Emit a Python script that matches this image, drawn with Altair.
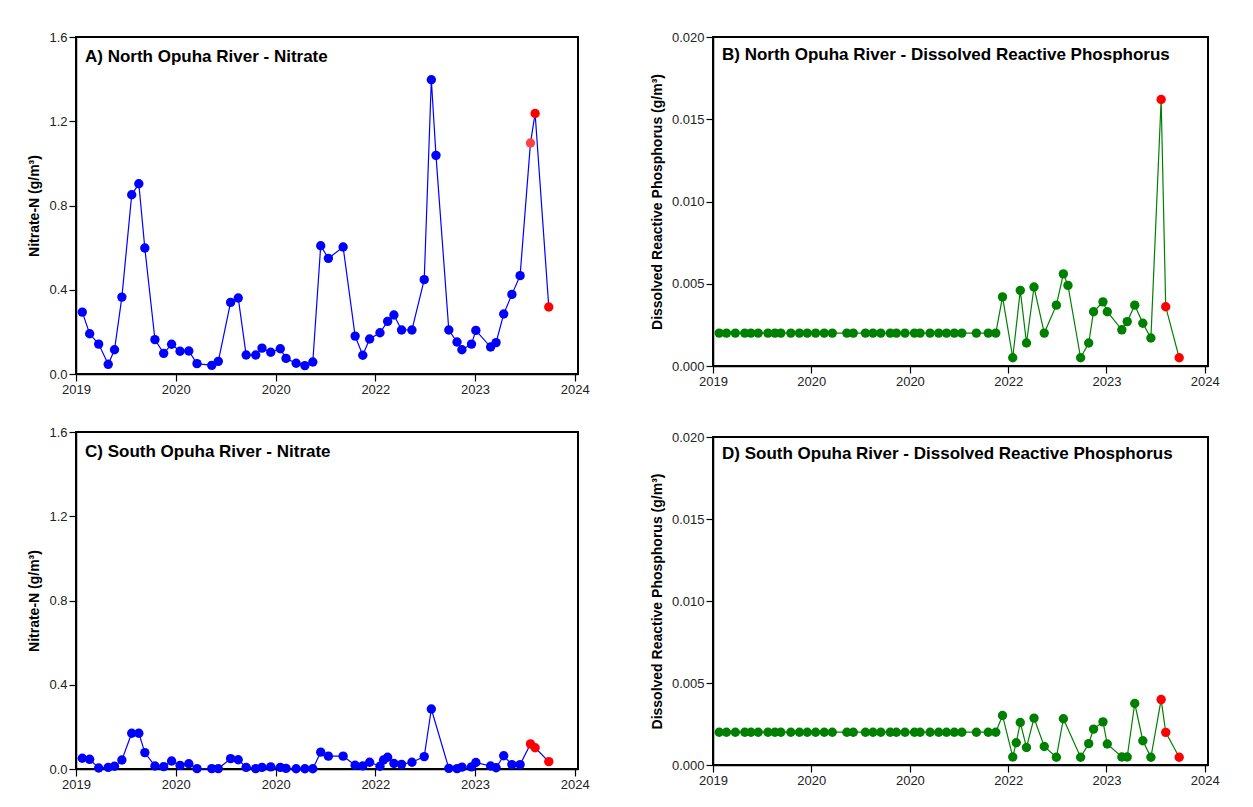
import altair as alt
import pandas as pd

# ---------------- data ----------------
north_dates = [
    "2019-01-24", "2019-02-20", "2019-03-25", "2019-04-29", "2019-05-22", "2019-06-18",
    "2019-07-24", "2019-08-19", "2019-09-10", "2019-10-17", "2019-11-18", "2019-12-17",
    "2020-01-17", "2020-02-18", "2020-03-19", "2020-05-12", "2020-06-05", "2020-07-20",
    "2020-08-17", "2020-09-15", "2020-10-20", "2020-11-12", "2020-12-14", "2021-01-18",
    "2021-02-08", "2021-03-17", "2021-04-18", "2021-05-17", "2021-06-15", "2021-07-13",
    "2021-09-05", "2021-10-19", "2021-11-16", "2021-12-11", "2022-01-18", "2022-02-15",
    "2022-03-10", "2022-04-07", "2022-05-15", "2022-06-29", "2022-07-25", "2022-08-11",
    "2022-09-27", "2022-10-27", "2022-11-14", "2022-12-19", "2023-01-04", "2023-02-27",
    "2023-03-19", "2023-04-16", "2023-05-16", "2023-06-15", "2023-07-23", "2023-08-09",
    "2023-09-28",
]

south_dates = [
    "2019-01-24", "2019-02-20", "2019-03-25", "2019-04-29", "2019-05-22", "2019-06-18",
    "2019-07-24", "2019-08-19", "2019-09-10", "2019-10-17", "2019-11-18", "2019-12-17",
    "2020-01-17", "2020-02-18", "2020-03-19", "2020-05-12", "2020-06-05", "2020-07-20",
    "2020-08-17", "2020-09-15", "2020-10-20", "2020-11-12", "2020-12-14", "2021-01-18",
    "2021-02-08", "2021-03-17", "2021-04-18", "2021-05-17", "2021-06-15", "2021-07-13",
    "2021-09-05", "2021-10-19", "2021-11-16", "2021-12-11", "2022-01-18", "2022-01-31",
    "2022-02-15", "2022-03-10", "2022-04-07", "2022-05-15", "2022-06-29", "2022-07-25",
    "2022-09-27", "2022-10-27", "2022-11-14", "2022-12-19", "2023-01-04", "2023-02-27",
    "2023-03-19", "2023-04-16", "2023-05-16", "2023-06-15", "2023-07-23", "2023-08-09",
    "2023-09-28",
]

north_nitrate = [
    0.294, 0.191, 0.142, 0.046, 0.115, 0.365, 0.851, 0.903, 0.598, 0.163, 0.098, 0.141,
    0.108, 0.109, 0.049, 0.041, 0.060, 0.340, 0.361, 0.090, 0.090, 0.123, 0.103, 0.120,
    0.074, 0.051, 0.040, 0.057, 0.609, 0.549, 0.603, 0.180, 0.089, 0.166, 0.196, 0.250,
    0.280, 0.209, 0.209, 0.448, 1.397, 1.038, 0.209, 0.152, 0.115, 0.142, 0.207, 0.128,
    0.149, 0.285, 0.378, 0.467, 1.097, 1.237, 0.318,
]

north_drp = [
    0.002, 0.002, 0.002, 0.002, 0.002, 0.002, 0.002, 0.002, 0.002, 0.002, 0.002, 0.002,
    0.002, 0.002, 0.002, 0.002, 0.002, 0.002, 0.002, 0.002, 0.002, 0.002, 0.002, 0.002,
    0.002, 0.002, 0.002, 0.002, 0.002, 0.002, 0.002, 0.002, 0.002, 0.0042, 0.0005, 0.0046,
    0.0014, 0.0048, 0.0020, 0.0037, 0.0056, 0.0049, 0.0005, 0.0014, 0.0033, 0.0039, 0.0033,
    0.0022, 0.0027, 0.0037, 0.0026, 0.0017, 0.0162, 0.0036, 0.0005,
]

south_nitrate = [
    0.051, 0.046, 0.005, 0.008, 0.013, 0.043, 0.170, 0.170, 0.078, 0.014, 0.011, 0.038,
    0.017, 0.025, 0.002, 0.002, 0.002, 0.049, 0.044, 0.008, 0.002, 0.008, 0.010, 0.008,
    0.003, 0.001, 0.001, 0.001, 0.080, 0.061, 0.061, 0.018, 0.015, 0.032, 0.013, 0.043,
    0.056, 0.026, 0.022, 0.032, 0.059, 0.285, 0.003, 0.002, 0.009, 0.010, 0.031, 0.014,
    0.006, 0.063, 0.021, 0.021, 0.119, 0.101, 0.035,
]

south_drp = [
    0.002, 0.002, 0.002, 0.002, 0.002, 0.002, 0.002, 0.002, 0.002, 0.002, 0.002, 0.002,
    0.002, 0.002, 0.002, 0.002, 0.002, 0.002, 0.002, 0.002, 0.002, 0.002, 0.002, 0.002,
    0.002, 0.002, 0.002, 0.002, 0.002, 0.002, 0.002, 0.002, 0.002, 0.00302, 0.00049, 0.00136,
    0.00259, 0.00107, 0.00286, 0.00113, 0.00047, 0.00282, 0.00047, 0.0013, 0.00219, 0.00263,
    0.00128, 0.00049, 0.00049, 0.00375, 0.00148, 0.00047, 0.00399, 0.00199, 0.00047,
]

# status of each sample: the last three are the most recent results
north_nitrate_status = ["past"] * 52 + ["recent_light", "recent", "recent"]
north_drp_status = ["past"] * 52 + ["recent", "recent", "recent"]
south_nitrate_status = ["past"] * 52 + ["recent", "recent", "recent"]
south_drp_status = ["past"] * 52 + ["recent", "recent", "recent"]

titles = [
    "A) North Opuha River - Nitrate",
    "B) North Opuha River - Dissolved Reactive Phosphorus",
    "C) South Opuha River - Nitrate",
    "D) South Opuha River - Dissolved Reactive Phosphorus",
]

year_ticks = [2019, 2020, 2021, 2022, 2023, 2024]
nitrate_ticks = [0.0, 0.4, 0.8, 1.2, 1.6]
drp_ticks = [0.0, 0.005, 0.010, 0.015, 0.020]

FONT = "Liberation Sans"
STATUS_COLORS = {"recent": "#ff0000", "recent_light": "#ff4343"}


def panel(dates, values, status, title, line_color, ytitle, yticks, ymax, yfmt,
          width, height, title_y):
    df = pd.DataFrame({
        "date": pd.to_datetime(dates),
        "value": values,
        "status": status,
    })
    xscale = alt.Scale(domain=[alt.DateTime(year=2019, month=1, date=1),
                               alt.DateTime(year=2024, month=1, date=13)])
    xaxis = alt.Axis(
        title=None,
        values=[alt.DateTime(year=y, month=1, date=1) for y in year_ticks],
        format="%Y",
        labelExpr="datum.label == '2021' ? '2020' : datum.label",
        labelFlush=False,
        labelOverlap=False,
        labelAlign="center",
    )
    yaxis = alt.Axis(title=ytitle, values=yticks, format=yfmt, labelOverlap=False)
    yscale = alt.Scale(domain=[0, ymax], nice=False, zero=True)

    base = alt.Chart(df).encode(
        x=alt.X("date:T", scale=xscale, axis=xaxis),
        y=alt.Y("value:Q", scale=yscale, axis=yaxis),
    )
    line = base.mark_line(color=line_color, strokeWidth=1.2)
    layers = [line,
              base.transform_filter(alt.datum.status == "past")
                  .mark_circle(size=88, opacity=1, color=line_color)]
    for st, col in STATUS_COLORS.items():
        layers.append(
            base.transform_filter(alt.datum.status == st)
                .mark_circle(size=88, opacity=1, color=col)
        )
    label = alt.Chart(pd.DataFrame({"t": [title]})).mark_text(
        align="left", baseline="alphabetic", font=FONT, fontSize=17,
        fontWeight="bold", color="black",
    ).encode(x=alt.value(9), y=alt.value(title_y), text="t:N")
    layers.append(label)
    return alt.layer(*layers).properties(width=width, height=height)


nit_title = "Nitrate-N (g/m³)"
drp_title = "Dissolved Reactive Phosphorus (g/m³)"

A = panel(north_dates, north_nitrate, north_nitrate_status, titles[0], "#0000ff",
          nit_title, nitrate_ticks, 1.6, ".1f", 502, 337, 25)
C = panel(south_dates, south_nitrate, south_nitrate_status, titles[2], "#0000ff",
          nit_title, nitrate_ticks, 1.6, ".1f", 502, 337, 25)
B = panel(north_dates, north_drp, north_drp_status, titles[1], "#008000",
          drp_title, drp_ticks, 0.02, ".3f", 495, 329, 23)
D = panel(south_dates, south_drp, south_drp_status, titles[3], "#008000",
          drp_title, drp_ticks, 0.02, ".3f", 495, 328, 22)

col1 = alt.vconcat(A, C, spacing=28)
col2 = alt.vconcat(B, D, spacing=41)

chart = alt.hconcat(col1, col2, spacing=58).properties(
    padding={"left": 18, "top": 22, "right": 0, "bottom": 0},
    background="white",
).configure_view(
    stroke="black", strokeWidth=2,
).configure_axis(
    grid=False,
    domainColor="black",
    domainWidth=1.5,
    tickColor="black",
    tickWidth=1.2,
    tickSize=7,
    labelFont=FONT,
    labelFontSize=13,
    labelColor="#222222",
    labelPadding=2,
    titleFont=FONT,
    titleFontSize=14,
    titleFontWeight="bold",
    titleColor="black",
    titlePadding=7,
)

chart.save("out.html", embed_options={"renderer": "svg", "actions": False})
